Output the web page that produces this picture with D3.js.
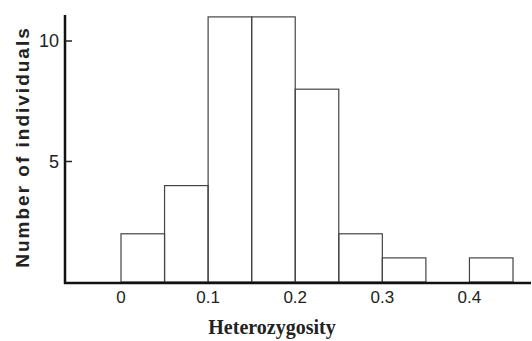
<!DOCTYPE html>
<html>
<head>
<meta charset="utf-8">
<script src="https://d3js.org/d3.v7.min.js"></script>
<style>
  body { margin: 0; background: #fff; }
</style>
</head>
<body>
<svg id="chart" width="532" height="341"></svg>
<script>
// histogram bins (lower edge) and counts
var binStarts = [0, 0.05, 0.10, 0.15, 0.20, 0.25, 0.30, 0.35, 0.40];
var counts    = [2, 4, 11, 11, 8, 2, 1, 0, 1];
var binWidth = 0.05;
var xTicks = [0, 0.1, 0.2, 0.3, 0.4];
var xTickLabels = ["0", "0.1", "0.2", "0.3", "0.4"];
var yTicks = [5, 10];

var svg = d3.select("#chart");

var x = d3.scaleLinear()
    .domain([0, 0.45])
    .range([121, 513]);

var y = d3.scaleLinear()
    .domain([0, 10])
    .range([282, 41]);

var axisLeftX = 65;

// bars
svg.append("g")
    .selectAll("rect")
    .data(binStarts.filter(function(d, i) { return counts[i] > 0; }))
    .enter().append("rect")
    .attr("x", function(d) { return x(d); })
    .attr("y", function(d) { return y(counts[binStarts.indexOf(d)]); })
    .attr("width", function(d) { return x(d + binWidth) - x(d); })
    .attr("height", function(d) { return y(0) - y(counts[binStarts.indexOf(d)]); })
    .attr("fill", "none")
    .attr("stroke", "#444")
    .attr("stroke-width", 1.2);

// x axis line
svg.append("line")
    .attr("x1", axisLeftX - 1)
    .attr("x2", 531)
    .attr("y1", y(0) + 1)
    .attr("y2", y(0) + 1)
    .attr("stroke", "#111")
    .attr("stroke-width", 2.5);

// y axis line
svg.append("line")
    .attr("x1", axisLeftX)
    .attr("x2", axisLeftX)
    .attr("y1", 15)
    .attr("y2", y(0) + 2)
    .attr("stroke", "#111")
    .attr("stroke-width", 2.5);

// y ticks (inward)
var yt = svg.append("g")
    .selectAll("g")
    .data(yTicks)
    .enter().append("g");

yt.append("line")
    .attr("x1", axisLeftX)
    .attr("x2", axisLeftX + 7)
    .attr("y1", function(d) { return y(d); })
    .attr("y2", function(d) { return y(d); })
    .attr("stroke", "#222")
    .attr("stroke-width", 1.5);

yt.append("text")
    .attr("x", axisLeftX - 6)
    .attr("y", function(d) { return y(d); })
    .attr("dy", "0.36em")
    .attr("text-anchor", "end")
    .attr("font-family", "Liberation Sans, Arial, sans-serif")
    .attr("font-size", 18)
    .attr("fill", "#222")
    .text(function(d) { return d; });

// x tick labels
svg.append("g")
    .selectAll("text")
    .data(xTicks)
    .enter().append("text")
    .attr("x", function(d) { return x(d); })
    .attr("y", 303)
    .attr("text-anchor", "middle")
    .attr("font-family", "Liberation Sans, Arial, sans-serif")
    .attr("font-size", 17)
    .attr("fill", "#222")
    .text(function(d, i) { return xTickLabels[i]; });

// axis titles
svg.append("text")
    .attr("transform", "translate(29,147) rotate(-90)")
    .attr("text-anchor", "middle")
    .attr("font-family", "Liberation Sans, Arial, sans-serif")
    .attr("font-weight", "bold")
    .attr("font-size", 19)
    .attr("letter-spacing", 2)
    .attr("fill", "#222")
    .text("Number of individuals");

svg.append("text")
    .attr("x", 272)
    .attr("y", 334)
    .attr("text-anchor", "middle")
    .attr("font-family", "Liberation Serif, Times New Roman, serif")
    .attr("font-weight", "bold")
    .attr("font-size", 20)
    .attr("fill", "#222")
    .text("Heterozygosity");
</script>
</body>
</html>
